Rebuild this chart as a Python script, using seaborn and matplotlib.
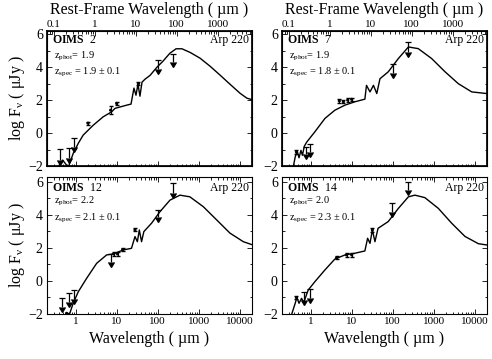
import numpy as np
import pandas as pd
import matplotlib
matplotlib.use('Agg')
import matplotlib.pyplot as plt
import matplotlib.ticker as mticker
import seaborn as sns

sns.set_theme(style='ticks')
plt.rcParams['font.family'] = ['Liberation Serif', 'DejaVu Serif']
plt.rcParams['mathtext.fontset'] = 'custom'
plt.rcParams['mathtext.rm'] = 'Liberation Serif'
plt.rcParams['mathtext.it'] = 'Liberation Serif:italic'
plt.rcParams['mathtext.bf'] = 'Liberation Serif:bold'
plt.rcParams['axes.edgecolor'] = 'black'
plt.rcParams['text.color'] = 'black'
plt.rcParams['axes.labelcolor'] = 'black'
plt.rcParams['xtick.color'] = 'black'
plt.rcParams['ytick.color'] = 'black'

# ---------------- data ----------------
ids = ['2', '7', '12', '14']
zphot = ['1.9', '1.9', '2.2', '2.0']
zspec = ['1.9 ± 0.1', '1.8 ± 0.1', '2.1 ± 0.1', '2.3 ± 0.1']
rest_factor = [2.9, 2.9, None, None]

# template curves (observed wavelength um, log flux uJy)
tl_curve_x = [0.34, 0.377, 0.482, 0.66, 0.873, 1.16, 1.53, 2.69, 4.7, 7.55, 9.1, 17.8, 22.4, 26.4,
              29.6, 33.1, 37, 41.5, 49, 65, 96, 134, 199, 281, 391, 617, 1080, 1900, 3330, 5800,
              10200, 15000, 20000]
tl_curve_y = [-2.4, -2.04, -1.64, -2.08, -1.23, -0.62, -0.12, 0.48, 0.99, 1.29, 1.5, 1.7, 1.76, 2.73,
              2.3, 2.97, 2.24, 3.09, 3.27, 3.5, 4.0, 4.36, 4.85, 5.12, 5.12, 4.9, 4.55, 4.06, 3.52,
              2.97, 2.42, 2.12, 2.03]
tr_curve_x = [0.36, 0.38, 0.42, 0.47, 0.52, 0.58, 0.63, 0.7, 0.8, 1.27, 2.23, 3.9, 6.9, 12, 21, 23,
              28, 34, 41, 49, 78, 138, 242, 420, 890, 1900, 4000, 8500, 20000]
tr_curve_y = [-2.4, -2.0, -1.45, -1.1, -1.5, -1.05, -1.35, -0.8, -0.55, 0.08, 0.89, 1.39, 1.7, 1.9,
              2.06, 2.9, 2.5, 2.9, 2.4, 3.3, 3.72, 4.53, 5.23, 5.13, 4.53, 3.72, 3.0, 2.5, 2.4]
bl_curve_x = [0.68, 0.72, 0.87, 1.16, 1.85, 3.25, 5.7, 8.3, 14.5, 23, 28, 32, 35.7, 40.5, 46, 71,
              114, 200, 350, 610, 1300, 2750, 5800, 12300, 20000]
bl_curve_y = [-2.3, -1.96, -1.35, -0.65, 0.16, 1.07, 1.58, 1.64, 1.88, 1.98, 2.69, 2.38, 3.09, 2.38,
              2.99, 3.5, 4.2, 4.9, 5.2, 5.1, 4.5, 3.7, 2.9, 2.38, 2.2]
br_curve_x = [0.32, 0.35, 0.42, 0.46, 0.52, 0.6, 0.68, 0.8, 0.87, 1.27, 2.23, 3.9, 6.9, 12, 21, 24.5,
              28, 32, 37, 44, 78, 138, 242, 350, 610, 1300, 2750, 5800, 12300, 20000]
br_curve_y = [-2.3, -1.96, -1.35, -1.0, -1.35, -1.05, -1.3, -0.8, -0.55, -0.04, 0.67, 1.33, 1.58,
              1.68, 1.82, 2.59, 2.28, 3.09, 2.38, 3.19, 3.6, 4.4, 5.1, 5.2, 5.05, 4.4, 3.5, 2.7,
              2.26, 2.18]

# upper limits (x, limit value, arrow length in dex)
tl_ul_x = [0.42, 0.70, 0.91, 102, 235]
tl_ul_y = [-0.99, -0.93, -0.32, 4.42, 4.83]
tl_ul_len = [0.65, 0.6, 0.55, 0.5, 0.5]
tr_ul_x = [0.79, 0.96, 104, 242]
tr_ul_y = [-0.85, -0.64, 4.22, 5.53]
tr_ul_len = [0.4, 0.5, 0.6, 0.6]
bl_ul_x = [0.46, 0.70, 0.91, 7.1, 100, 240]
bl_ul_y = [-1.01, -0.75, -0.55, 1.64, 4.3, 5.92]
bl_ul_len = [0.55, 0.55, 0.55, 0.5, 0.45, 0.6]
br_ul_x = [0.70, 0.96, 98, 240]
br_ul_y = [-0.65, -0.5, 4.7, 6.02]
br_ul_len = [0.5, 0.55, 0.55, 0.5]

# detections (x, y, y error)
tl_det_x = [7.1, 10.0, 34.0, 2.0]
tl_det_y = [1.39, 1.8, 3.0, 0.6]
tl_det_err = [0.25, 0.1, 0.1, 0.1]
tr_det_x = [0.45, 5.0, 6.3, 8.0, 10.0]
tr_det_y = [-1.15, 1.95, 1.9, 2.0, 2.05]
tr_det_err = [0.1, 0.1, 0.1, 0.1, 0.1]
bl_det_x = [0.6, 8.5, 10.5, 28.0, 14.0]
bl_det_y = [-1.96, 1.64, 1.64, 3.1, 1.9]
bl_det_err = [0.05, 0.1, 0.1, 0.1, 0.1]
br_det_x = [0.45, 4.3, 7.5, 10.0, 32.0]
br_det_y = [-1.0, 1.41, 1.58, 1.58, 3.09]
br_det_err = [0.1, 0.1, 0.12, 0.12, 0.1]

obs_ticks = [1, 10, 100, 1000, 10000]
rest_ticks = [0.1, 1, 10, 100, 1000]
y_ticks = [-2, 0, 2, 4, 6]

panels = [
    dict(curve=(tl_curve_x, tl_curve_y), ul=(tl_ul_x, tl_ul_y, tl_ul_len),
         det=(tl_det_x, tl_det_y, tl_det_err)),
    dict(curve=(tr_curve_x, tr_curve_y), ul=(tr_ul_x, tr_ul_y, tr_ul_len),
         det=(tr_det_x, tr_det_y, tr_det_err)),
    dict(curve=(bl_curve_x, bl_curve_y), ul=(bl_ul_x, bl_ul_y, bl_ul_len),
         det=(bl_det_x, bl_det_y, bl_det_err)),
    dict(curve=(br_curve_x, br_curve_y), ul=(br_ul_x, br_ul_y, br_ul_len),
         det=(br_det_x, br_det_y, br_det_err)),
]

# ---------------- layout ----------------
W, H = 492, 359
fig = plt.figure(figsize=(W / 100, H / 100), dpi=100)
boxes = [(47, 31, 205, 135), (282, 31, 205, 135), (47, 177, 205, 137), (282, 177, 205, 137)]
ylims = [(-2, 6.2), (-2, 6.2), (-2, 6.3), (-2, 6.3)]
text_pos = [(0.93, 0.815, 0.695), (0.935, 0.815, 0.695), (0.92, 0.82, 0.70), (0.922, 0.82, 0.70)]

fmt = mticker.FuncFormatter(lambda v, p: f'{v:g}')

for i, (p, box) in enumerate(zip(panels, boxes)):
    x0, y0, w, h = box
    ax = fig.add_axes([x0 / W, 1 - (y0 + h) / H, w / W, h / H])
    cx, cy = p['curve']
    sns.lineplot(x=cx, y=cy, ax=ax, color='black', lw=1.0, sort=False, estimator=None)
    ux, uy, ul = p['ul']
    ax.errorbar(ux, uy, yerr=ul, uplims=True, fmt='none', ecolor='black', color='black',
                elinewidth=0.9, capsize=2.2, capthick=0.9)
    dx, dy, de = p['det']
    ax.errorbar(dx, dy, yerr=de, fmt='none', ecolor='black', color='black',
                elinewidth=0.8, capsize=1.2)
    sns.scatterplot(x=dx, y=dy, ax=ax, color='black', s=5, edgecolor='none', legend=False)

    ax.set_xscale('log')
    ax.set_xlim(0.2, 20000)
    ax.set_ylim(*ylims[i])
    ax.set_xticks(obs_ticks)
    ax.xaxis.set_major_formatter(fmt)
    ax.xaxis.set_minor_locator(mticker.LogLocator(base=10, subs=np.arange(2, 10), numticks=20))
    ax.xaxis.set_minor_formatter(mticker.NullFormatter())
    ax.set_yticks(y_ticks)
    ax.yaxis.set_minor_locator(mticker.MultipleLocator(1))
    for s in ax.spines.values():
        s.set_linewidth(0.8)
        s.set_color('black')
    ax.tick_params(which='both', direction='in', right=True, top=(i >= 2), width=0.6)
    ax.tick_params(which='major', length=3.5)
    ax.tick_params(which='minor', length=1.8)
    ax.tick_params(axis='y', labelsize=10, pad=3)
    ax.tick_params(axis='x', labelsize=8, pad=2.5)
    ax.set_xlabel('')
    ax.set_ylabel('')
    if i < 2:
        ax.tick_params(axis='x', labelbottom=False)
        ax2 = ax.twiny()
        ax2.set_xscale('log')
        ax2.set_xlim(0.2 / rest_factor[i], 20000 / rest_factor[i])
        ax2.set_xticks(rest_ticks)
        ax2.xaxis.set_major_formatter(fmt)
        ax2.xaxis.set_minor_locator(mticker.LogLocator(base=10, subs=np.arange(2, 10), numticks=20))
        ax2.xaxis.set_minor_formatter(mticker.NullFormatter())
        ax2.tick_params(which='both', direction='in', width=0.6, labelsize=8, pad=1.5)
        ax2.tick_params(which='major', length=3.5)
        ax2.tick_params(which='minor', length=1.8)
        ax2.set_xlabel('Rest-Frame Wavelength ( µm )', fontsize=11.5, labelpad=4)
    else:
        ax.set_xlabel('Wavelength ( µm )', fontsize=11.5, labelpad=3)
    if i % 2 == 0:
        ax.set_ylabel(r'log F$_{\mathrm{\nu}}$ ( $\mathrm{\mu}$Jy )', fontsize=11.5, labelpad=1)

    ty, tp, ts = text_pos[i]
    ax.text(0.024, ty, r'$\mathbf{OIMS}$  ' + ids[i], transform=ax.transAxes,
            fontsize=8.5, va='center', ha='left')
    ax.text(0.985, ty, 'Arp 220', transform=ax.transAxes, fontsize=8.5, va='center', ha='right')
    ax.text(0.035, tp, r'z$_{\mathrm{phot}}$= ' + zphot[i], transform=ax.transAxes,
            fontsize=7.5, va='center', ha='left')
    ax.text(0.035, ts, r'z$_{\mathrm{spec}}$ = ' + zspec[i], transform=ax.transAxes,
            fontsize=7.5, va='center', ha='left')

fig.savefig('out.png', dpi=100)
